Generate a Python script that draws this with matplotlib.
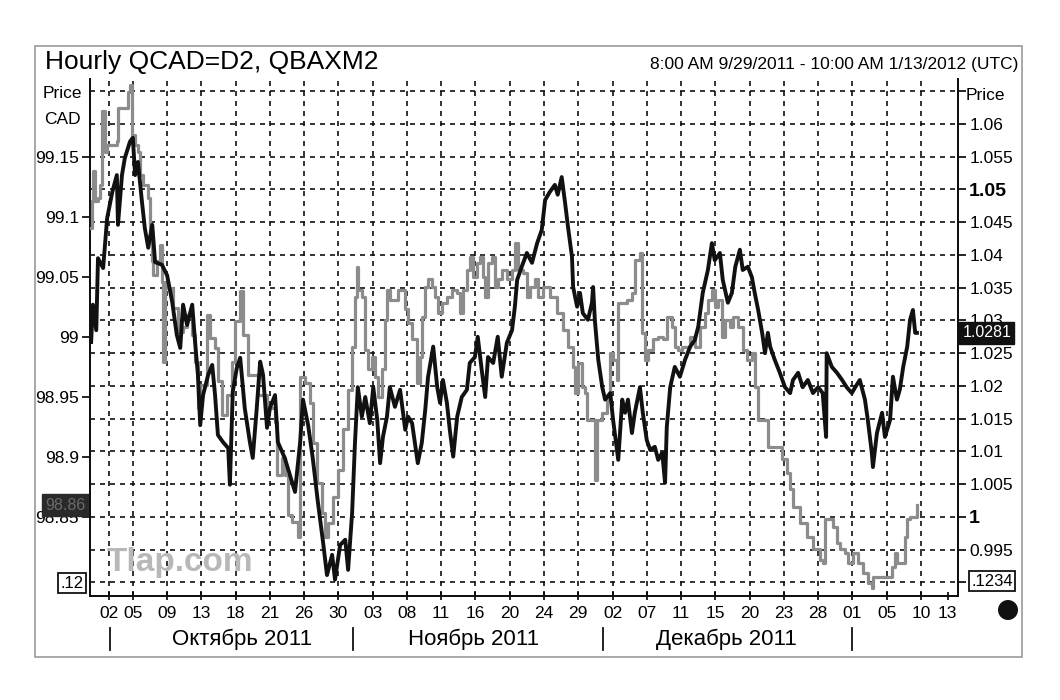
import matplotlib
matplotlib.use("Agg")
import matplotlib.pyplot as plt
from matplotlib.patches import Rectangle, Ellipse
from matplotlib.transforms import blended_transform_factory

plt.rcParams['font.family'] = ['Liberation Sans', 'DejaVu Sans']

# hourly bar index (weekends removed), one grid cell = 60 bars
black_x = [2, 5, 11, 14, 23, 30, 39, 47, 49, 56, 61, 70, 75, 79, 84, 91, 96, 102, 109, 114,
           126, 135, 144, 152, 158, 163, 170, 179, 184, 189, 193, 198, 207, 214, 219, 224, 233, 242, 245, 250,
           257, 263, 271, 280, 285, 292, 298, 303, 310, 315, 324, 329, 341, 350, 359, 368, 373, 382, 390, 399,
           408, 415, 424, 429, 438, 447, 452, 459, 464, 469, 476, 482, 490, 496, 503, 508, 513, 520, 525, 534,
           543, 552, 557, 564, 569, 574, 581, 587, 592, 601, 608, 613, 618, 625, 630, 636, 643, 651, 660, 665,
           674, 679, 686, 692, 697, 706, 714, 721, 730, 739, 744, 748, 756, 765, 774, 783, 791, 797, 805, 814,
           819, 826, 832, 837, 844, 846, 853, 858, 863, 872, 879, 881, 884, 890, 897, 902, 911, 916, 925, 932,
           937, 942, 949, 954, 963, 968, 975, 981, 989, 995, 1002, 1007, 1010, 1016, 1024, 1033, 1042, 1051, 1059, 1065,
           1073, 1082, 1089, 1094, 1103, 1108, 1117, 1124, 1130, 1138, 1143, 1152, 1159, 1164, 1170, 1177, 1182, 1187, 1191, 1199,
           1208, 1217, 1226, 1231, 1240, 1248, 1257, 1266, 1275, 1283, 1289, 1290, 1299, 1308, 1317, 1325, 1334, 1340, 1348, 1357,
           1362, 1369, 1371, 1378, 1387, 1392, 1401, 1406, 1413, 1418, 1424, 1431, 1436, 1441, 1445, 1448]
# QBAXM2 (right axis)
black_y = [1.0267, 1.0324, 1.0285, 1.0395, 1.0380, 1.0456, 1.0496, 1.0522, 1.0446, 1.0522,
           1.0548, 1.0573, 1.0579, 1.0522, 1.0542, 1.0481, 1.0441, 1.0411, 1.0446, 1.0389,
           1.0385, 1.0369, 1.0328, 1.0278, 1.0258, 1.0324, 1.0293, 1.0324, 1.0267, 1.0217,
           1.0140, 1.0186, 1.0217, 1.0232, 1.0186, 1.0125, 1.0114, 1.0105, 1.0049, 1.0191,
           1.0227, 1.0243, 1.0166, 1.0114, 1.0090, 1.0166, 1.0237, 1.0217, 1.0136, 1.0166,
           1.0186, 1.0114, 1.0090, 1.0064, 1.0038, 1.0114, 1.0179, 1.0140, 1.0090, 1.0023,
           0.9962, 0.9911, 0.9942, 0.9904, 0.9957, 0.9965, 0.9919, 1.0006, 1.0113, 1.0198,
           1.0153, 1.0183, 1.0143, 1.0198, 1.0148, 1.0082, 1.0122, 1.0153, 1.0198, 1.0168,
           1.0194, 1.0133, 1.0153, 1.0143, 1.0113, 1.0082, 1.0113, 1.0163, 1.0214, 1.0260,
           1.0198, 1.0174, 1.0209, 1.0174, 1.0133, 1.0092, 1.0153, 1.0183, 1.0194, 1.0235,
           1.0244, 1.0275, 1.0224, 1.0183, 1.0244, 1.0235, 1.0275, 1.0214, 1.0266, 1.0285,
           1.0321, 1.0362, 1.0382, 1.0403, 1.0388, 1.0418, 1.0438, 1.0484, 1.0496, 1.0507,
           1.0492, 1.0519, 1.0479, 1.0443, 1.0397, 1.0351, 1.0321, 1.0342, 1.0311, 1.0301,
           1.0327, 1.0351, 1.0301, 1.0240, 1.0198, 1.0179, 1.0189, 1.0148, 1.0087, 1.0179,
           1.0159, 1.0179, 1.0128, 1.0159, 1.0198, 1.0159, 1.0117, 1.0102, 1.0107, 1.0087,
           1.0098, 1.0052, 1.0137, 1.0198, 1.0229, 1.0214, 1.0240, 1.0260, 1.0270, 1.0290,
           1.0342, 1.0377, 1.0418, 1.0392, 1.0403, 1.0362, 1.0327, 1.0342, 1.0382, 1.0408,
           1.0377, 1.0382, 1.0366, 1.0342, 1.0316, 1.0281, 1.0250, 1.0281, 1.0260, 1.0240,
           1.0220, 1.0198, 1.0189, 1.0209, 1.0220, 1.0198, 1.0209, 1.0189, 1.0198, 1.0189,
           1.0122, 1.0250, 1.0229, 1.0220, 1.0209, 1.0198, 1.0189, 1.0198, 1.0209, 1.0179,
           1.0148, 1.0098, 1.0076, 1.0128, 1.0159, 1.0122, 1.0148, 1.0214, 1.0179, 1.0194,
           1.0229, 1.0260, 1.0301, 1.0316, 1.0281, 1.0281]

gray_x = [2, 4, 5, 9, 14, 18, 21, 26, 30, 39, 47, 49, 65, 67, 70, 74, 79, 84, 88, 93,
          102, 105, 109, 110, 117, 123, 126, 128, 131, 137, 145, 154, 163, 170, 179, 184, 189, 193, 201, 205,
          210, 219, 224, 231, 240, 249, 254, 263, 268, 277, 285, 294, 303, 310, 319, 324, 327, 336, 341, 347,
          354, 364, 368, 376, 385, 390, 397, 406, 411, 417, 425, 434, 443, 452, 459, 464, 468, 469, 476, 482,
          487, 494, 499, 504, 511, 517, 520, 525, 534, 539, 548, 552, 557, 564, 569, 573, 578, 581, 587, 592,
          599, 604, 609, 616, 625, 634, 643, 648, 653, 660, 665, 671, 678, 683, 688, 692, 697, 704, 709, 714,
          721, 730, 739, 744, 749, 758, 765, 770, 779, 784, 793, 805, 818, 828, 837, 846, 849, 854, 861, 867,
          870, 881, 884, 888, 896, 905, 911, 916, 923, 925, 940, 949, 954, 963, 967, 972, 977, 986, 995, 1003,
          1010, 1019, 1024, 1030, 1037, 1045, 1051, 1059, 1068, 1077, 1082, 1089, 1094, 1100, 1107, 1112, 1121, 1126, 1135, 1143,
          1150, 1159, 1164, 1170, 1185, 1187, 1205, 1212, 1220, 1226, 1231, 1243, 1255, 1266, 1278, 1283, 1287, 1296, 1301, 1308,
          1313, 1322, 1327, 1336, 1345, 1354, 1362, 1369, 1371, 1397, 1404, 1410, 1413, 1424, 1427, 1431, 1436, 1448]
# QCAD=D2 (left axis)
gray_y = [99.091, 99.113, 99.138, 99.113, 99.116, 99.127, 99.188, 99.154, 99.160, 99.160,
          99.163, 99.191, 99.191, 99.204, 99.210, 99.168, 99.160, 99.154, 99.135, 99.127,
          99.116, 99.088, 99.063, 99.052, 99.063, 99.077, 99.046, 98.979, 99.046, 99.041,
          99.024, 99.004, 99.008, 99.018, 99.002, 98.979, 98.941, 98.960, 98.960, 99.018,
          98.999, 98.991, 98.963, 98.935, 98.952, 98.979, 99.013, 99.038, 99.002, 98.968,
          98.968, 98.952, 98.952, 98.941, 98.941, 98.929, 98.885, 98.899, 98.885, 98.852,
          98.846, 98.833, 98.967, 98.962, 98.945, 98.912, 98.878, 98.853, 98.833, 98.845,
          98.867, 98.889, 98.923, 98.956, 98.992, 99.033, 99.058, 99.039, 99.033, 98.989,
          98.973, 98.983, 98.967, 98.950, 98.973, 99.014, 99.039, 99.031, 99.031, 99.039,
          99.039, 99.023, 99.012, 98.998, 98.998, 98.962, 98.983, 99.017, 99.042, 99.048,
          99.042, 99.033, 99.020, 99.028, 99.033, 99.039, 99.037, 99.020, 99.039, 99.056,
          99.067, 99.050, 99.062, 99.067, 99.050, 99.033, 99.062, 99.067, 99.042, 99.048,
          99.056, 99.048, 99.056, 99.078, 99.056, 99.053, 99.033, 99.042, 99.048, 99.033,
          99.042, 99.033, 99.020, 99.006, 98.992, 98.975, 98.953, 98.978, 98.958, 98.953,
          98.931, 98.931, 98.881, 98.931, 98.937, 98.948, 98.987, 98.981, 98.964, 99.028,
          99.031, 99.037, 99.064, 99.070, 99.003, 98.981, 98.989, 98.998, 99.000, 98.998,
          99.017, 99.008, 98.992, 98.989, 98.992, 98.992, 99.000, 98.992, 99.008, 99.020,
          99.031, 99.039, 99.025, 99.031, 99.000, 99.014, 99.008, 99.017, 99.008, 98.989,
          98.981, 98.987, 98.958, 98.931, 98.931, 98.908, 98.908, 98.898, 98.887, 98.873,
          98.858, 98.845, 98.833, 98.823, 98.814, 98.812, 98.848, 98.848, 98.842, 98.828,
          98.823, 98.820, 98.812, 98.820, 98.812, 98.803, 98.795, 98.791, 98.800, 98.800,
          98.808, 98.820, 98.812, 98.812, 98.833, 98.848, 98.850, 98.860]

day_ticks = [33, 75, 135, 195, 255, 315, 375, 435, 495, 555, 615, 675, 735, 795, 855,
             915, 975, 1035, 1095, 1155, 1215, 1275, 1335, 1395, 1455, 1502]
day_labels = ['02', '05', '09', '13', '18', '21', '26', '30', '03', '08', '11', '16', '20',
              '24', '29', '02', '07', '11', '15', '20', '23', '28', '01', '05', '10', '13']
month_starts = [35, 460, 898, 1334]
month_centers = [266, 671, 1114]
month_names = ['Октябрь 2011', 'Ноябрь 2011', 'Декабрь 2011']

left_ticks = [98.85, 98.9, 98.95, 99.0, 99.05, 99.1, 99.15]
left_labels = ['98.85', '98.9', '98.95', '99', '99.05', '99.1', '99.15']
right_ticks = [0.99, 0.995, 1.0, 1.005, 1.01, 1.015, 1.02, 1.025, 1.03, 1.035, 1.04, 1.045,
               1.05, 1.055, 1.06, 1.065]
right_labels = ['', '0.995', '1', '1.005', '1.01', '1.015', '1.02', '1.025', '1.03', '1.035',
                '1.04', '1.045', '1.05', '1.055', '1.06', '']
last_gray = 98.86
last_black = 1.0281

fig = plt.figure(figsize=(10.6, 7), dpi=100)
fig.patch.set_facecolor('white')
fig.add_artist(Rectangle((35 / 1060, 43 / 700), 987 / 1060, 611 / 700, transform=fig.transFigure,
                         fill=False, edgecolor='#9a9a9a', lw=1.2))

ax = fig.add_axes([0.0849, 0.1486, 0.8189, 0.7385])
ax2 = ax.twinx()

ax.set_xlim(0, 1520)
ax.set_ylim(98.7842, 99.215)
ax2.set_ylim(0.98791, 1.06687)

ax2.plot(gray_x, gray_y, color='#8c8c8c', lw=2.3, drawstyle='steps-post',
         transform=ax.transData, zorder=3)
ax2.plot(black_x, black_y, color='#111111', lw=2.8, zorder=4)

# grid
ax2.set_yticks(right_ticks)
ax2.set_yticklabels(right_labels)
ax2.yaxis.grid(True, color='#111111', lw=1.2, linestyle=(0, (3, 3)))
ax.set_xticks(day_ticks)
ax.set_xticklabels(day_labels)
ax.xaxis.grid(True, color='#111111', lw=1.2, linestyle=(0, (3, 3)))
ax.get_xgridlines()[-1].set_visible(False)
ax.set_axisbelow(True)

ax.set_yticks(left_ticks)
ax.set_yticklabels(left_labels)

for a in (ax, ax2):
    a.spines['top'].set_visible(False)
    for s in ('left', 'right', 'bottom'):
        a.spines[s].set_linewidth(1.4)
        a.spines[s].set_color('#111111')
ax.tick_params(axis='y', labelsize=12.5, length=6, width=1.2, pad=2)
ax2.tick_params(axis='y', labelsize=12.5, length=6, width=1.2, pad=2)
ax.tick_params(axis='x', labelsize=12.5, length=6, width=1.2, direction='inout', pad=4)
for lbl in ax2.get_yticklabels():
    if lbl.get_text() in ('1', '1.05'):
        lbl.set_fontweight('bold')
        lbl.set_fontsize(14)

# month separators and names
trans = blended_transform_factory(ax.transData, ax.transAxes)
for m in month_starts:
    ax.plot([m, m], [-0.062, -0.105], color='#111111', lw=1.3, transform=trans, clip_on=False)
for c, name in zip(month_centers, month_names):
    ax.text(c, -0.083, name, transform=trans, ha='center', va='center', fontsize=16)

# last value markers
ax.text(-0.005, last_gray, '98.86', transform=blended_transform_factory(ax.transAxes, ax.transData),
        ha='right', va='center', fontsize=11.5, color='#6a6a6a', zorder=20,
        bbox=dict(boxstyle='square,pad=0.2', facecolor='#2a2a2a', edgecolor='#2a2a2a'))
ax2.text(1.005, last_black, '1.0281', transform=blended_transform_factory(ax2.transAxes, ax2.transData),
         ha='left', va='center', fontsize=11.5, color='white', zorder=20,
         bbox=dict(boxstyle='square,pad=0.2', facecolor='#111111', edgecolor='#111111'))

# scale boxes at the bottom
fig.text(72 / 1060, 1 - 583 / 700, '.12', ha='center', va='center', fontsize=12,
         bbox=dict(boxstyle='square,pad=0.15', facecolor='white', edgecolor='#111111', lw=1.3))
fig.text(992 / 1060, 1 - 581 / 700, '.1234', ha='center', va='center', fontsize=12,
         bbox=dict(boxstyle='square,pad=0.15', facecolor='white', edgecolor='#111111', lw=1.3))

fig.text(62 / 1060, 1 - 93 / 700, 'Price', ha='center', va='center', fontsize=12.5)
fig.text(62 / 1060, 1 - 120 / 700, 'CAD', ha='center', va='center', fontsize=12.5)
fig.text(985 / 1060, 1 - 96 / 700, 'Price', ha='center', va='center', fontsize=12.5)

fig.text(45 / 1060, 1 - 62 / 700, 'Hourly QCAD=D2, QBAXM2', ha='left', va='center', fontsize=19)
fig.text(1018 / 1060, 1 - 65 / 700, '8:00 AM 9/29/2011 - 10:00 AM 1/13/2012 (UTC)',
         ha='right', va='center', fontsize=12.5)

fig.text(180 / 1060, 1 - 563 / 700, 'Tlap.com', ha='center', va='center', fontsize=24,
         fontweight='bold', color='#b8b8b8', zorder=10)
fig.add_artist(Ellipse((1008 / 1060, 1 - 610 / 700), 20 / 1060, 20 / 700,
                       transform=fig.transFigure, facecolor='#111111', edgecolor='none'))

fig.savefig('out.png', dpi=100)
